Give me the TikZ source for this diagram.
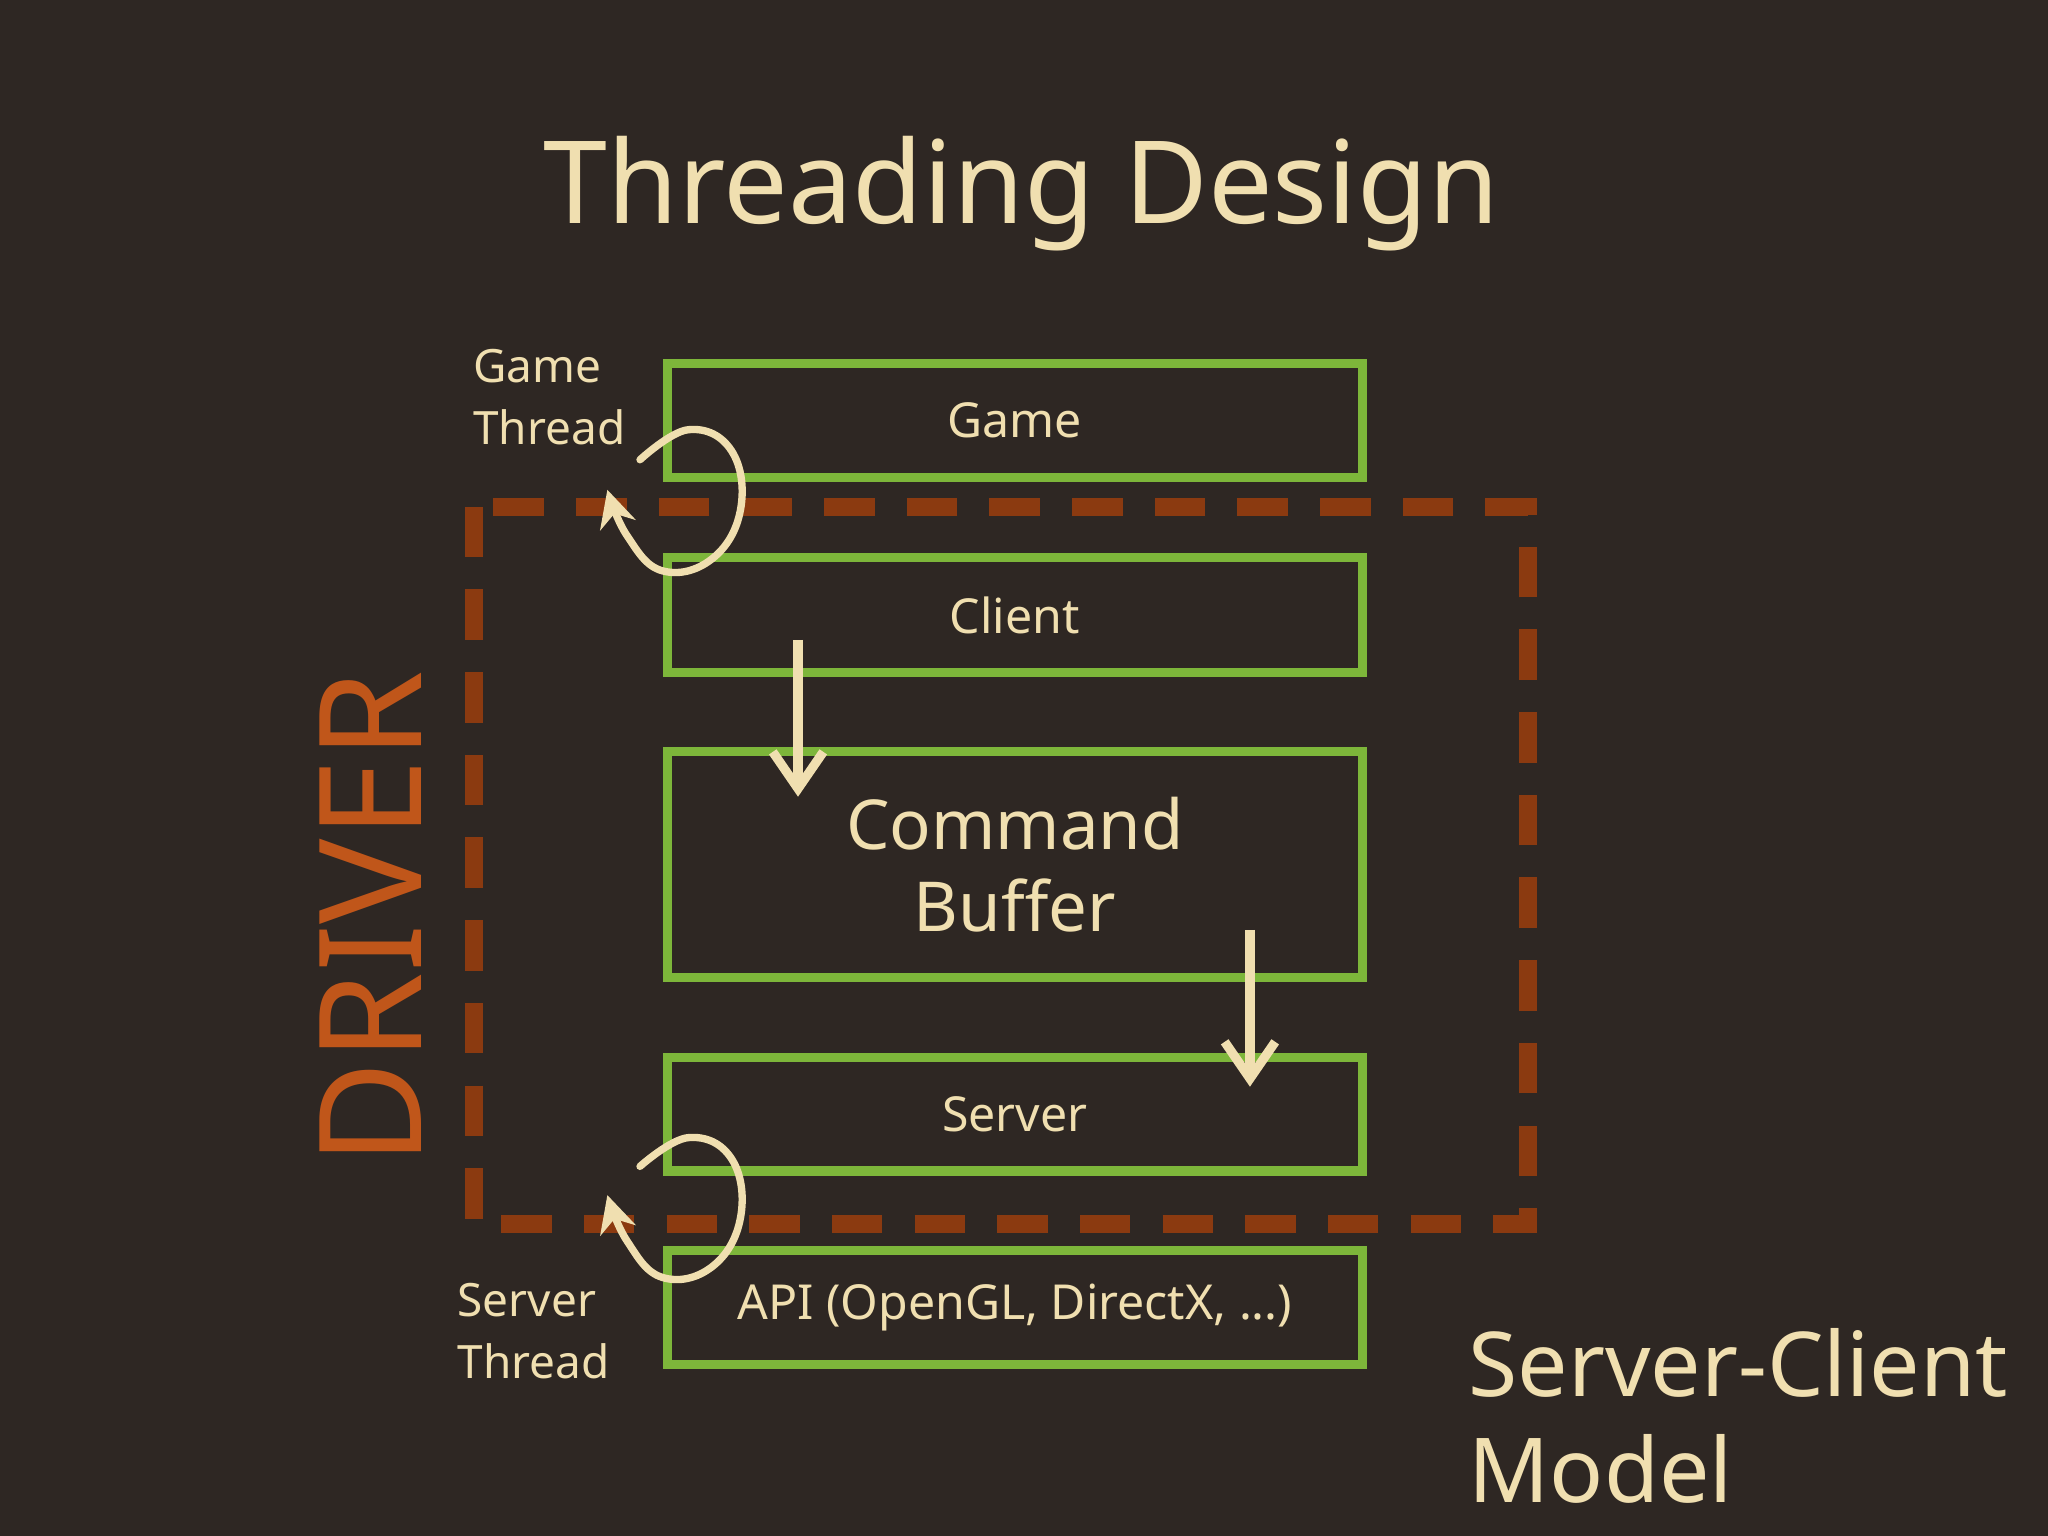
\documentclass[tikz,border=0pt]{standalone}
\usepackage{fontspec}
\setmainfont{Noto Sans}
\usetikzlibrary{arrows.meta}
\definecolor{bg}{HTML}{2E2723}
\definecolor{cream}{HTML}{F0DFB0}
\definecolor{grn}{HTML}{7DB63A}
\definecolor{rust}{HTML}{8B3A10}
\definecolor{drv}{HTML}{C0561A}
\begin{document}
\begin{tikzpicture}[x=0.01cm,y=-0.01cm,
  layer/.style={draw=grn,line width=2pt,minimum width=5.32cm,text=cream,font=\fontsize{10.5}{13}\selectfont},
  flow/.style={cream,line width=2pt,-{Straight Barb[length=8pt,width=11pt]}},
  loop/.style={cream,line width=1.6pt,line cap=round,-{Stealth[length=8pt,width=8pt]}},
  lbl/.style={text=cream,align=left,anchor=north west,font=\fontsize{10}{13.5}\selectfont},
  ]
\fill[bg] (0,0) rectangle (1568,1176);
\useasboundingbox (0,0) rectangle (1568,1176);
\node[text=cream,font=\fontsize{25}{30}\selectfont] (title) at (782,148) {Threading Design};
\draw[rust,line width=4pt,dash pattern=on 11pt off 7pt] (363,388) rectangle (1170,937);
\node[layer,minimum height=0.87cm] (game) at (777,322) {Game};
\node[layer,minimum height=0.88cm] (client) at (777,471) {Client};
\node[layer,minimum height=1.73cm,font=\fontsize{15}{18}\selectfont,align=center] (buf) at (777,662) {Command\\Buffer};
\node[layer,minimum height=0.87cm] (server) at (777,853) {Server};
\node[layer,minimum height=0.87cm] (api) at (777,1001) {API (OpenGL, DirectX, ...)};
\coordinate (a1) at (611,490); \coordinate (a2) at (611,610);
\coordinate (b1) at (957,712); \coordinate (b2) at (957,832);
\draw[flow] (a1) -- (a2);
\draw[flow] (b1) -- (b2);
\draw[loop] plot[smooth,tension=0.7] coordinates {(490,352)(527,329)(560,345)(567,390)(545,428)(507,437)(480,410)(465,375)};
\draw[loop] plot[smooth,tension=0.7] coordinates {(490,893)(527,871)(560,887)(567,932)(545,970)(507,978)(480,950)(465,915)};
\node[lbl] (gt) at (350,255) {Game\\Thread};
\node[lbl] (st) at (338,970) {Server\\Thread};
\node[text=drv,rotate=90,font=\fontsize{31}{36}\selectfont] (driver) at (284,703) {DRIVER};
\node[text=cream,align=left,anchor=north west,font=\fontsize{19.5}{23}\selectfont] (model) at (1112,1005) {Server-Client\\Model};
\end{tikzpicture}
\end{document}
